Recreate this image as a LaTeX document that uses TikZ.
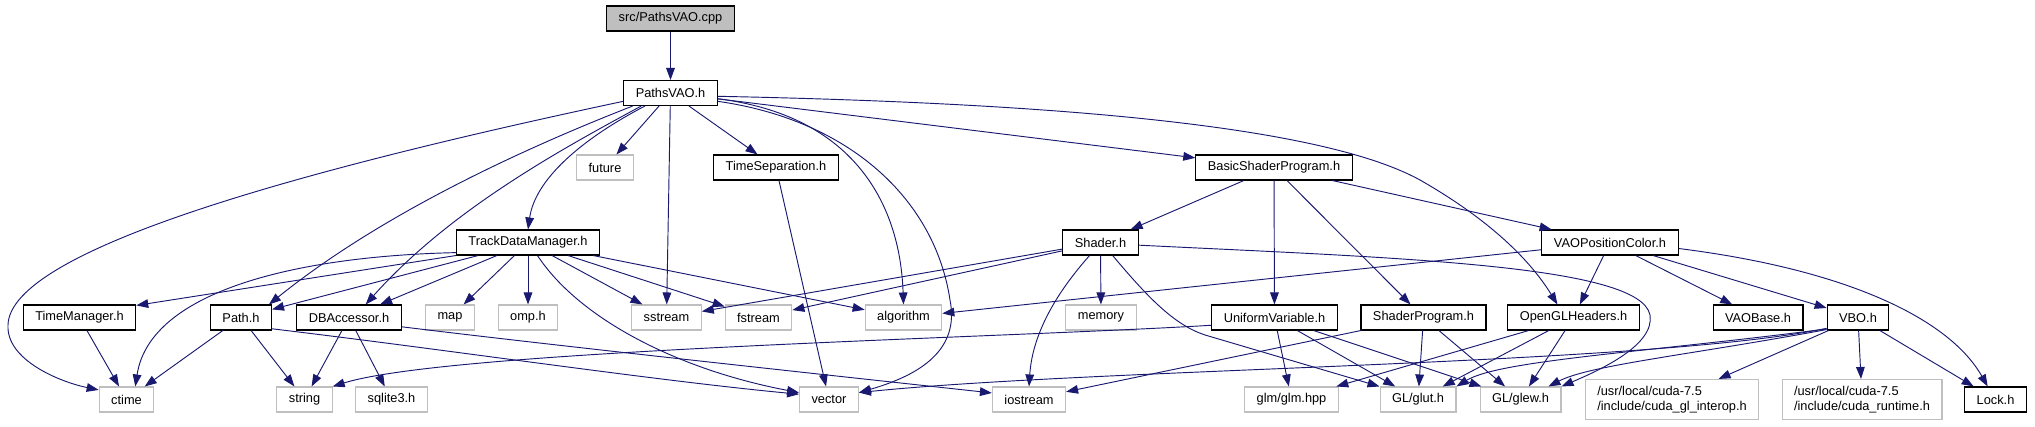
\documentclass[tikz,border=0pt]{standalone}
\usepackage{fontspec}
\setmainfont{Liberation Sans}
\usetikzlibrary{arrows.meta}
\definecolor{edgeblue}{HTML}{191970}
\definecolor{sysgray}{HTML}{BFBFBF}

\begin{document}
\begin{tikzpicture}[x=0.75pt, y=-0.75pt, >={Triangle[length=9pt, width=6.5pt]},
        hdr/.style={draw=black, line width=0.8pt, fill=white, inner xsep=9pt, inner ysep=0pt,
            minimum height=18.75pt, font=\fontsize{9.6}{11.5}\selectfont},
        syshdr/.style={hdr, draw=sysgray},
        dep/.style={->, draw=edgeblue, line width=0.7pt}]
            \useasboundingbox (0,0) rectangle (2035,427);

            % Các nút (tệp)
            \node[hdr, fill=sysgray] (cpp) at (670.5,18.5) {src/PathsVAO.cpp};
            \node[hdr] (pvao) at (670.5,93) {PathsVAO.h};

            \node[syshdr] (future) at (605,167.5) {future};
            \node[hdr] (tsep) at (776,167.5) {TimeSeparation.h};
            \node[hdr] (bsp) at (1274,167.5) {BasicShaderProgram.h};

            \node[hdr] (tdm) at (528,242.5) {TrackDataManager.h};
            \node[hdr] (shader) at (1100.5,242.5) {Shader.h};
            \node[hdr] (vaopc) at (1610,242.5) {VAOPositionColor.h};

            \node[hdr] (tman) at (79.5,317.5) {TimeManager.h};
            \node[hdr] (pth) at (241,317.5) {Path.h};
            \node[hdr] (dba) at (349,317.5) {DBAccessor.h};
            \node[syshdr] (map) at (450,317.5) {map};
            \node[syshdr] (omp) at (528,317.5) {omp.h};
            \node[syshdr] (sstream) at (666.5,317.5) {sstream};
            \node[syshdr] (fstream) at (758.5,317.5) {fstream};
            \node[syshdr] (algo) at (903.5,317.5) {algorithm};
            \node[syshdr] (memory) at (1101,317.5) {memory};
            \node[hdr] (uvar) at (1274.5,317.5) {UniformVariable.h};
            \node[hdr] (sprog) at (1423.5,317.5) {ShaderProgram.h};
            \node[hdr] (oglh) at (1573.5,317.5) {OpenGLHeaders.h};
            \node[hdr] (vaob) at (1758,317.5) {VAOBase.h};
            \node[hdr] (vbo) at (1858,317.5) {VBO.h};

            \node[syshdr] (ctime) at (126.5,399.5) {ctime};
            \node[syshdr] (string) at (304.5,399.5) {string};
            \node[syshdr] (sqlite) at (391.5,399.5) {sqlite3.h};
            \node[syshdr] (vector) at (829,399.5) {vector};
            \node[syshdr] (iostream) at (1029,399.5) {iostream};
            \node[syshdr] (glm) at (1291.5,399.5) {glm/glm.hpp};
            \node[syshdr] (glut) at (1418,399.5) {GL/glut.h};
            \node[syshdr] (glew) at (1520.5,399.5) {GL/glew.h};
            \node[syshdr, align=left, minimum height=30pt] (cudagl) at (1672,399.5) {/usr/local/cuda-7.5\\/include/cuda\_gl\_interop.h};
            \node[syshdr, align=left, minimum height=30pt] (cudart) at (1862,399.5) {/usr/local/cuda-7.5\\/include/cuda\_runtime.h};
            \node[hdr] (lock) at (1995.5,399.5) {Lock.h};

            % src/PathsVAO.cpp
            \draw[dep] (cpp) -- (pvao);

            % PathsVAO.h
            \draw[dep] (pvao.190) .. controls (300,170) and (10,250) .. (8,325) .. controls (6,360) and (60,382) .. (ctime.161);
            \draw[dep] (pvao.199) .. controls (520,150) and (380,215) .. (pth.25);
            \draw[dep] (pvao.204) .. controls (560,150) and (450,210) .. (dba.38);
            \draw[dep] (pvao.207) .. controls (580,140) and (535,180) .. (tdm.north);
            \draw[dep] (pvao) -- (future);
            \draw[dep] (pvao) -- (sstream);
            \draw[dep] (pvao) -- (tsep);
            \draw[dep] (pvao.-7) .. controls (850,115) and (900,200) .. (algo.north);
            \draw[dep] (pvao.-10) .. controls (850,120) and (935,200) .. (950,300) .. controls (960,350) and (920,375) .. (vector.13);
            \draw[dep] (pvao) -- (bsp);
            \draw[dep] (pvao.-4) .. controls (1050,103) and (1320,125) .. (1420,180) .. controls (1490,220) and (1530,260) .. (oglh.141);

            % TimeSeparation.h
            \draw[dep] (tsep) -- (vector);

            % TrackDataManager.h
            \draw[dep] (tdm.south west) -- (tman.12);
            \draw[dep] (tdm.188) .. controls (300,256) and (150,290) .. (ctime.56);
            \draw[dep] (tdm) -- (pth);
            \draw[dep] (tdm) -- (dba);
            \draw[dep] (tdm) -- (map);
            \draw[dep] (tdm) -- (omp);
            \draw[dep] (tdm.-54) .. controls (580,320) and (680,370) .. (vector.167);
            \draw[dep] (tdm) -- (sstream);
            \draw[dep] (tdm) -- (fstream);
            \draw[dep] (tdm) -- (algo);

            % TimeManager.h, Path.h, DBAccessor.h
            \draw[dep] (tman) -- (ctime);
            \draw[dep] (pth) -- (ctime);
            \draw[dep] (pth) -- (string);
            \draw[dep] (pth.-20) .. controls (450,350) and (650,380) .. (vector.170);
            \draw[dep] (dba) -- (string);
            \draw[dep] (dba) -- (sqlite);
            \draw[dep] (dba.-10) .. controls (550,345) and (800,372) .. (iostream.170);

            % BasicShaderProgram.h
            \draw[dep] (bsp) -- (shader);
            \draw[dep] (bsp) -- (uvar);
            \draw[dep] (bsp) -- (sprog);
            \draw[dep] (bsp) -- (vaopc);

            % Shader.h
            \draw[dep] (shader) -- (sstream);
            \draw[dep] (shader) -- (fstream);
            \draw[dep] (shader) -- (memory);
            \draw[dep] (shader.230) .. controls (1050,300) and (1032,340) .. (iostream.north);
            \draw[dep] (shader.-47) .. controls (1150,300) and (1175,325) .. (1205,335) -- (glut.north west);
            \draw[dep] (shader.-4) .. controls (1400,258) and (1640,265) .. (1650,315) .. controls (1655,345) and (1600,370) .. (glew.north east);

            % VAOPositionColor.h
            \draw[dep] (vaopc) -- (algo);
            \draw[dep] (vaopc) -- (oglh);
            \draw[dep] (vaopc) -- (vaob);
            \draw[dep] (vaopc) -- (vbo);
            \draw[dep] (vaopc.-5) .. controls (1850,270) and (1950,320) .. (lock.121);

            % UniformVariable.h, ShaderProgram.h, OpenGLHeaders.h
            \draw[dep] (uvar.187) .. controls (1000,338) and (450,350) .. (string.north east);
            \draw[dep] (uvar) -- (glm);
            \draw[dep] (uvar) -- (glut);
            \draw[dep] (uvar) -- (glew);
            \draw[dep] (sprog) -- (iostream);
            \draw[dep] (sprog) -- (glut);
            \draw[dep] (sprog) -- (glew);
            \draw[dep] (oglh) -- (glm);
            \draw[dep] (oglh) -- (glut);
            \draw[dep] (oglh) -- (glew);

            % VBO.h
            \draw[dep] (vbo.199) .. controls (1650,365) and (1100,368) .. (vector.13);
            \draw[dep] (vbo.200) .. controls (1650,352) and (1500,360) .. (glut.north east);
            \draw[dep] (vbo.201) .. controls (1690,355) and (1590,365) .. (glew.25);
            \draw[dep] (vbo) -- (cudagl);
            \draw[dep] (vbo) -- (cudart);
            \draw[dep] (vbo) -- (lock);
        \end{tikzpicture}
\end{document}
